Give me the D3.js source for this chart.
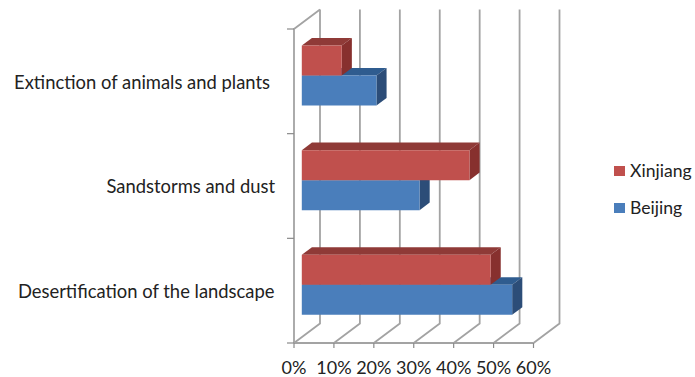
<!DOCTYPE html>
<html>
<head>
<meta charset="utf-8">
<script src="https://cdn.jsdelivr.net/npm/d3@7"></script>
<style>
  html, body { margin: 0; padding: 0; background: #fff; }
  svg { display: block; }
  text { font-family: Lato, "Open Sans", sans-serif; fill: #222; }
</style>
</head>
<body>
<svg id="chart" width="695" height="377"></svg>
<script>
// Survey results per category, listed from the top of the chart downwards
const categories = ["Extinction of animals and plants", "Sandstorms and dust", "Desertification of the landscape"];
const seriesNames = ["Xinjiang", "Beijing"];
const xinjiang = [0.10, 0.42, 0.473];
const beijing = [0.187, 0.295, 0.527];
const xTicks = [0, 0.1, 0.2, 0.3, 0.4, 0.5, 0.6];

const colors = {
  Xinjiang: { front: "#c0504d", top: "#8f3a37", side: "#87302e" },
  Beijing: { front: "#4a7ebb", top: "#2f5c8f", side: "#2c4d78" }
};

// Oblique projection: box depth of the whole plot, and the bar's place within it
const depth = { dx: 26, dy: -19.5 };
const barNear = 0.30, barFar = 0.69;
const project = (x, y, z) => [x + depth.dx * z, y + depth.dy * z];

const svg = d3.select("#chart");
const x = d3.scaleLinear().domain([0, 0.6]).range([294, 533.5]);
const y = d3.scaleBand().domain(categories).range([29, 343]);
const inner = d3.scaleBand().domain(seriesNames).range([0, 60]);
const bandInset = (y.bandwidth() - inner.range()[1]) / 2;

const wall = svg.append("g").attr("fill", "none").attr("stroke", "#a3a3a3").attr("stroke-width", 1.8);
const floorY = y.range()[1], topY = y.range()[0];
const line = d3.line();

// Back wall gridlines and the matching floor diagonals
xTicks.forEach(t => {
  const a = project(x(t), floorY, 0), b = project(x(t), floorY, 1), c = project(x(t), topY, 1);
  wall.append("path").attr("d", line([a, b, c]));
});
// Side wall and its top edge
wall.append("path").attr("d", line([project(x(0), floorY, 0), project(x(0), topY, 0), project(x(0), topY, 1)]));
// Front floor edge
wall.append("path").attr("d", line([[x(0), floorY], [x.range()[1], floorY]]));

// Tick stubs on both axes
const ticks = svg.append("g").attr("stroke", "#8a8a8a").attr("stroke-width", 1.2);
xTicks.forEach(t => ticks.append("line").attr("x1", x(t)).attr("x2", x(t)).attr("y1", floorY).attr("y2", floorY + 5));
const yEdges = categories.map(c => y(c)).concat(floorY);
yEdges.forEach(v => ticks.append("line").attr("x1", x(0) - 7).attr("x2", x(0)).attr("y1", v).attr("y2", v));

// One extruded bar: front, top and right faces
function drawBar(g, category, name, value) {
  const yTop = y(category) + bandInset + inner(name);
  const yBot = yTop + inner.bandwidth();
  const xL = x(0), xR = x(value);
  const c = colors[name];
  const poly = pts => "M" + pts.join("L") + "Z";
  g.append("path").attr("fill", c.top)
    .attr("d", poly([project(xL, yTop, barNear), project(xR, yTop, barNear), project(xR, yTop, barFar), project(xL, yTop, barFar)]));
  g.append("path").attr("fill", c.side)
    .attr("d", poly([project(xR, yTop, barNear), project(xR, yTop, barFar), project(xR, yBot, barFar), project(xR, yBot, barNear)]));
  g.append("path").attr("fill", c.front)
    .attr("d", poly([project(xL, yTop, barNear), project(xR, yTop, barNear), project(xR, yBot, barNear), project(xL, yBot, barNear)]));
}

const bars = svg.append("g");
categories.forEach((cat, i) => {
  const g = bars.append("g");
  drawBar(g, cat, "Beijing", beijing[i]);
  drawBar(g, cat, "Xinjiang", xinjiang[i]);
});

// Category labels
const labelRight = [270, 275, 274.5];
svg.append("g").selectAll("text").data(categories).join("text")
  .attr("x", (d, i) => labelRight[i])
  .attr("y", d => y(d) + y.bandwidth() / 2 + 1)
  .attr("dy", "0.35em")
  .attr("text-anchor", "end")
  .attr("font-size", 18.4)
  .text(d => d);

// Percent labels under the floor
svg.append("g").selectAll("text").data(xTicks).join("text")
  .attr("x", d => x(d))
  .attr("y", 368)
  .attr("dy", "0.35em")
  .attr("text-anchor", "middle")
  .attr("font-size", 18)
  .text(d3.format(".0%"));

// Legend
const legend = svg.append("g");
const legendY = d3.scalePoint().domain(seriesNames).range([171, 208]);
seriesNames.forEach(name => {
  legend.append("rect").attr("x", 614).attr("y", legendY(name) - 5).attr("width", 11).attr("height", 10)
    .attr("fill", colors[name].front);
  legend.append("text").attr("x", 630).attr("y", legendY(name)).attr("dy", "0.35em")
    .attr("font-size", 17.6).text(name);
});
</script>
</body>
</html>
